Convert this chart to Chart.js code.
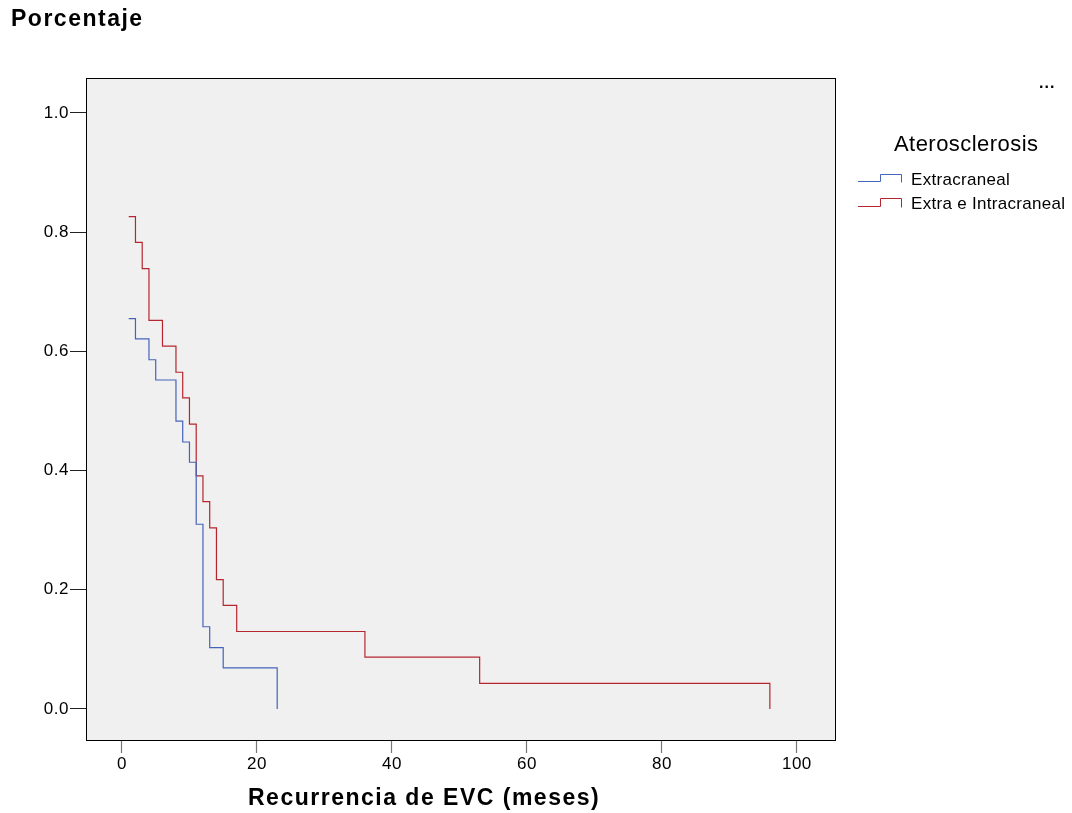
<!DOCTYPE html>
<html>
<head>
<meta charset="utf-8">
<script src="https://cdn.jsdelivr.net/npm/chart.js@4/dist/chart.umd.min.js"></script>
<style>
  html, body { margin: 0; padding: 0; background: #ffffff; }
  #wrap { width: 1072px; height: 813px; position: relative; }
</style>
</head>
<body>
<div id="wrap"><canvas id="c" width="1072" height="813"></canvas></div>
<script>
// ---- data ----
const seriesNames = ["Extracraneal", "Extra e Intracraneal"];
const extraTime = [1, 2, 4, 5, 8, 9, 10, 11, 12, 13, 15, 23];
const extraSurv = [0.655, 0.621, 0.586, 0.552, 0.483, 0.448, 0.414, 0.310, 0.138, 0.103, 0.069, 0.0];
const intraTime = [1, 2, 3, 4, 6, 8, 9, 10, 11, 12, 13, 14, 15, 17, 36, 53, 96];
const intraSurv = [0.826, 0.783, 0.739, 0.652, 0.609, 0.565, 0.522, 0.478, 0.391, 0.348, 0.304, 0.217, 0.174, 0.130, 0.087, 0.043, 0.0];
const xTicks = [0, 20, 40, 60, 80, 100];
const yTicks = [0.0, 0.2, 0.4, 0.6, 0.8, 1.0];
const yTitle = "Porcentaje";
const xTitle = "Recurrencia de EVC (meses)";
const legendTitle = "Aterosclerosis";

const FONT = "'Liberation Sans', Arial, sans-serif";
const colors = ["#4563b9", "#b5262e"];

const toPts = (xs, ys) => xs.map((x, i) => ({ x: x, y: ys[i] }));

const decor = {
  id: 'decor',
  beforeLayout(chart) { chart.ctx.letterSpacing = '0.5px'; },
  beforeDraw(chart) { chart.ctx.letterSpacing = '0.5px'; },
  beforeDatasetsDraw(chart) {
    const { ctx, chartArea: a } = chart;
    ctx.save();
    ctx.fillStyle = '#f0f0f0';
    ctx.fillRect(a.left, a.top, a.right - a.left, a.bottom - a.top);
    ctx.restore();
  },
  afterDraw(chart) {
    const { ctx, chartArea: a } = chart;
    ctx.save();
    ctx.strokeStyle = '#000';
    ctx.lineWidth = 1;
    ctx.strokeRect(a.left + 0.5, a.top + 0.5, a.right - a.left - 1, a.bottom - a.top - 1);
    // titles
    ctx.fillStyle = '#000';
    ctx.textBaseline = 'alphabetic';
    ctx.font = "bold 23px " + FONT;
    ctx.letterSpacing = '1.5px';
    ctx.textAlign = 'left';
    ctx.fillText(yTitle, 11, 26);
    ctx.fillText(xTitle, 248, 805);
    ctx.font = "bold 16px " + FONT;
    ctx.letterSpacing = '1px';
    ctx.fillText("...", 1039, 88);
    // legend
    ctx.font = "22px " + FONT;
    ctx.letterSpacing = '0.45px';
    ctx.fillText(legendTitle, 894, 151);
    ctx.font = "17px " + FONT;
    ctx.letterSpacing = '0.3px';
    const base = [184.5, 208.5];
    const lo = [181.5, 206.5];
    const hi = [174.5, 198.5];
    seriesNames.forEach((n, i) => {
      ctx.strokeStyle = colors[i];
      ctx.lineWidth = 1;
      ctx.beginPath();
      ctx.moveTo(858, lo[i]);
      ctx.lineTo(880.5, lo[i]);
      ctx.lineTo(880.5, hi[i]);
      ctx.lineTo(901.5, hi[i]);
      ctx.lineTo(901.5, lo[i] + 1);
      ctx.stroke();
      ctx.fillStyle = '#000';
      ctx.fillText(n, 911, base[i]);
    });
    ctx.restore();
  }
};

new Chart(document.getElementById('c'), {
  type: 'line',
  data: {
    datasets: [
      { label: seriesNames[0], data: toPts(extraTime, extraSurv), borderColor: colors[0], borderWidth: 1.2, stepped: 'before', pointRadius: 0, fill: false },
      { label: seriesNames[1], data: toPts(intraTime, intraSurv), borderColor: colors[1], borderWidth: 1.2, stepped: 'before', pointRadius: 0, fill: false }
    ]
  },
  options: {
    responsive: false,
    animation: false,
    devicePixelRatio: 1,
    layout: { padding: { left: 0, right: 236, top: 78, bottom: 0 } },
    plugins: { legend: { display: false }, title: { display: false }, tooltip: { enabled: false } },
    scales: {
      x: {
        type: 'linear',
        min: -5.33, max: 105.8,
        afterBuildTicks: s => { s.ticks = xTicks.map(v => ({ value: v })); },
        afterFit: s => { s.height = 72; },
        grid: { display: true, drawOnChartArea: false, drawTicks: true, tickLength: 12, color: '#777', tickWidth: 1.2 },
        border: { display: false },
        ticks: { color: '#000', font: { family: FONT, size: 17 }, padding: 1, maxRotation: 0, callback: v => String(v) }
      },
      y: {
        type: 'linear',
        min: -0.0537, max: 1.0587,
        afterBuildTicks: s => { s.ticks = yTicks.map(v => ({ value: v })); },
        afterFit: s => { s.width = 86; },
        grid: { display: true, drawOnChartArea: false, drawTicks: true, tickLength: 16, color: '#222', tickWidth: 1 },
        border: { display: false },
        ticks: { color: '#000', font: { family: FONT, size: 17 }, padding: 1, callback: v => Number(v).toFixed(1) }
      }
    }
  },
  plugins: [decor]
});
</script>
</body>
</html>
